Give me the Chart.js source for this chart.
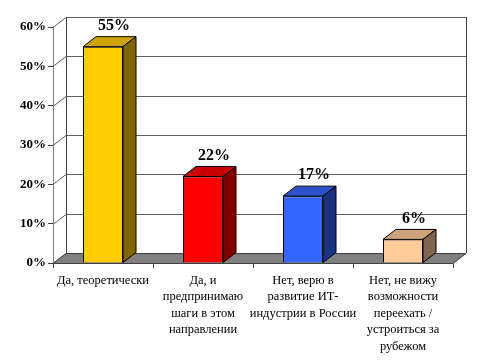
<!DOCTYPE html>
<html>
<head>
<meta charset="utf-8">
<script src="https://cdn.jsdelivr.net/npm/chart.js@4"></script>
<style>
  html, body { margin: 0; padding: 0; background: #fff; }
  #wrap { width: 500px; height: 361px; }
</style>
</head>
<body>
<div id="wrap"><canvas id="chart" width="500" height="361"></canvas></div>
<script>
const categories = [
    ["Да, теоретически"],
    ["Да, и", "предпринимаю", "шаги в этом", "направлении"],
    ["Нет, верю в", "развитие ИТ-", "индустрии в России"],
    ["Нет, не вижу", "возможности", "переехать /", "устроиться за", "рубежом"]
];
const values = [55, 22, 17, 6];
const yTicks = [0, 10, 20, 30, 40, 50, 60];

const frontColors = ["#FFCC00", "#FF0000", "#3366FF", "#FFCC99"];
const topColors = ["#CCA300", "#CC0000", "#2952CC", "#CCA37A"];
const sideColors = ["#806600", "#800000", "#1A3380", "#806650"];

// depth of the 3d box
const DX = 13, DY = 10;

const walls = {
    id: "walls",
    beforeDatasetsDraw(chart) {
        const ctx = chart.ctx;
        const a = chart.chartArea;
        const y = chart.scales.y;
        ctx.save();
        // back wall
        ctx.fillStyle = "#fff";
        ctx.fillRect(a.left + DX, a.top - DY, a.right - a.left, a.bottom - a.top);
        ctx.lineWidth = 1;
        ctx.strokeStyle = "#606060";
        yTicks.forEach(v => {
            const py = Math.round(y.getPixelForValue(v)) + 0.5;
            ctx.beginPath();
            ctx.moveTo(a.left, py);
            ctx.lineTo(a.left + DX, py - DY);
            ctx.lineTo(a.right + DX, py - DY);
            ctx.stroke();
        });
        ctx.strokeStyle = "#404040";
        ctx.beginPath();
        ctx.moveTo(a.left + DX + 0.5, a.top - DY);
        ctx.lineTo(a.left + DX + 0.5, a.bottom - DY);
        ctx.moveTo(a.right + DX + 0.5, a.top - DY);
        ctx.lineTo(a.right + DX + 0.5, a.bottom - DY);
        ctx.stroke();
        // floor
        ctx.fillStyle = "#808080";
        ctx.strokeStyle = "#404040";
        ctx.beginPath();
        ctx.moveTo(a.left, a.bottom + 0.5);
        ctx.lineTo(a.right, a.bottom + 0.5);
        ctx.lineTo(a.right + DX, a.bottom - DY + 0.5);
        ctx.lineTo(a.left + DX, a.bottom - DY + 0.5);
        ctx.closePath();
        ctx.fill();
        ctx.stroke();
        ctx.restore();
    },
    afterDatasetsDraw(chart) {
        const ctx = chart.ctx;
        const meta = chart.getDatasetMeta(0);
        ctx.save();
        ctx.lineWidth = 1;
        ctx.strokeStyle = "#000";
        meta.data.forEach((bar, i) => {
            const l = bar.x - bar.width / 2, r = bar.x + bar.width / 2;
            const t = bar.y, b = bar.base;
            // top face
            ctx.fillStyle = topColors[i];
            ctx.beginPath();
            ctx.moveTo(l, t);
            ctx.lineTo(l + DX, t - DY);
            ctx.lineTo(r + DX, t - DY);
            ctx.lineTo(r, t);
            ctx.closePath();
            ctx.fill();
            ctx.stroke();
            // side face
            ctx.fillStyle = sideColors[i];
            ctx.beginPath();
            ctx.moveTo(r, t);
            ctx.lineTo(r + DX, t - DY);
            ctx.lineTo(r + DX, b - DY);
            ctx.lineTo(r, b);
            ctx.closePath();
            ctx.fill();
            ctx.stroke();
            // value label
            ctx.fillStyle = "#000";
            ctx.font = "bold 16px 'Liberation Serif'";
            ctx.textAlign = "center";
            ctx.textBaseline = "middle";
            ctx.fillText(values[i] + "%", bar.x + 11, t - 21);
        });
        ctx.restore();
    }
};

new Chart(document.getElementById("chart"), {
    type: "bar",
    data: {
        labels: categories,
        datasets: [{
            data: values,
            backgroundColor: frontColors,
            borderColor: "#000",
            borderWidth: 1,
            barPercentage: 0.4,
            categoryPercentage: 1
        }]
    },
    options: {
        responsive: false,
        animation: false,
        layout: { padding: { top: 27, right: 47, left: 0, bottom: 0 } },
        plugins: { legend: { display: false }, tooltip: { enabled: false } },
        scales: {
            x: {
                afterFit(s) { s.height = 98; },
                grid: { drawOnChartArea: false, tickLength: 5, color: "#404040" },
                border: { color: "#808080" },
                ticks: {
                    color: "#000",
                    padding: 4,
                    maxRotation: 0,
                    autoSkip: false,
                    font: { family: "'Liberation Serif'", size: 12.5, lineHeight: 1.32 }
                }
            },
            y: {
                min: 0,
                max: 60,
                afterFit(s) { s.width = 53; },
                afterBuildTicks(s) { s.ticks = yTicks.map(v => ({ value: v })); },
                grid: { drawOnChartArea: false, tickLength: 5, color: "#404040" },
                border: { color: "#808080" },
                ticks: {
                    color: "#000",
                    padding: 2,
                    callback: v => v + "%",
                    font: { family: "'Liberation Serif'", size: 13, weight: "bold" }
                }
            }
        }
    },
    plugins: [walls]
});
</script>
</body>
</html>
